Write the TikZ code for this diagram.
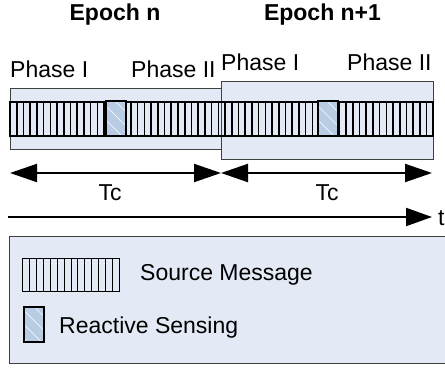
\documentclass[tikz,border=0pt]{standalone}
\usepackage{fontspec}
\setmainfont{Liberation Sans}
\usetikzlibrary{arrows.meta}
\definecolor{boxblue}{RGB}{228,234,245}
\definecolor{senseblue}{RGB}{184,204,228}

\begin{document}
\begin{tikzpicture}[x=1pt,y=-1pt,
	epochbox/.style={draw=black!75,fill=boxblue,line width=0.8pt,inner sep=0pt},
	sense/.style={draw=black,line width=2pt,fill=senseblue,inner sep=0pt,
		minimum width=20pt,minimum height=35pt,
		path picture={\foreach \k in {10,-4,-18,-32}
			\draw[white,line width=0.7pt] ([yshift=\k pt]path picture bounding box.north west) -- ++(40,40);}},
	txt/.style={font=\fontsize{23}{25}\selectfont,inner sep=0pt},
	tc/.style={{Triangle[length=27pt,width=18pt]}-{Triangle[length=27pt,width=18pt]},line width=2pt},
	timeaxis/.style={-{Triangle[length=26pt,width=18pt]},line width=2pt}]
		\useasboundingbox (0,0) rectangle (445,369);
		\node[epochbox,minimum width=211pt,minimum height=61pt] (ep1) at (115.5,118.5) {};
		\node[epochbox,minimum width=212pt,minimum height=78pt] (ep2) at (327,120) {};
		\draw[line width=1.8pt] (10,102) rectangle (433,136);
		\foreach \i in {1,...,62}
			\draw[line width=1.6pt] (10+\i*6.72,102) -- (10+\i*6.72,136);
		\node[sense] (s1) at (115.5,119) {};
		\node[sense] (s2) at (327.5,119) {};
		\node[txt,font=\fontsize{23}{25}\selectfont\bfseries,anchor=base] (e1) at (115,21) {Epoch n};
		\node[txt,font=\fontsize{23}{25}\selectfont\bfseries,anchor=base] (e2) at (322.5,21) {Epoch n+1};
		\node[txt,anchor=base west] (p1) at (10,78) {Phase I};
		\node[txt,anchor=base west] (p2) at (131,78) {Phase II};
		\node[txt,anchor=base west] (p3) at (221,70.5) {Phase I};
		\node[txt,anchor=base west] (p4) at (347,70.5) {Phase II};
		\coordinate (c0) at (10,173);
		\coordinate (c1) at (221,173);
		\coordinate (c2) at (432,173);
		\draw[tc] (c0) -- (c1);
		\draw[tc] (c1) -- (c2);
		\node[txt,anchor=base] (tc1) at (110,200) {Tc};
		\node[txt,anchor=base] (tc2) at (327,200) {Tc};
		\coordinate (a0) at (8,217);
		\coordinate (a1) at (432,217);
		\draw[timeaxis] (a0) -- (a1);
		\node[txt,anchor=base west] (t) at (438,225) {t};
		\draw[draw=black!75,fill=boxblue,line width=0.8pt] (9,236) rectangle (450,363);
		\draw[line width=1pt] (22.7,258) rectangle (119.3,291.7);
		\foreach \i in {1,...,13}
			\draw[line width=1pt] (22.7+\i*6.9,258) -- (22.7+\i*6.9,291.7);
		\node[txt,anchor=base west] (m) at (140,280) {Source Message};
		\node[sense,minimum width=20pt] (s3) at (34,324) {};
		\node[txt,anchor=base west] (r) at (59,333) {Reactive Sensing};
	\end{tikzpicture}
\end{document}
